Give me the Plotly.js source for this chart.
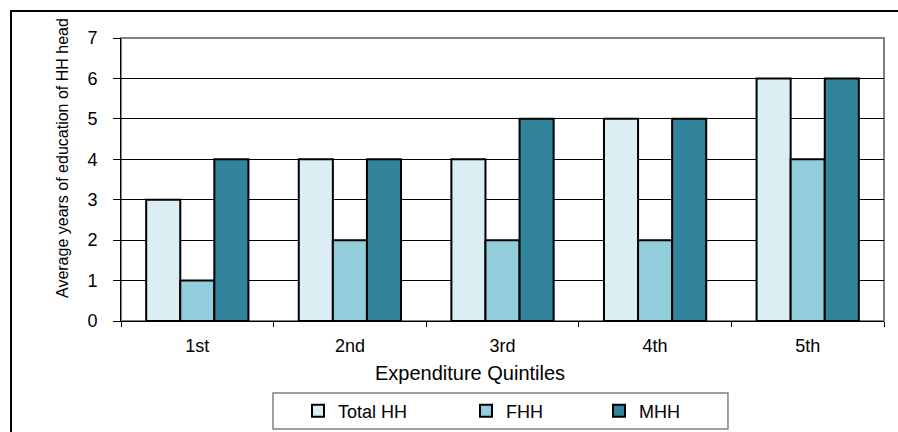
<!DOCTYPE html>
<html>
<head>
<meta charset="utf-8">
<script src="https://cdn.plot.ly/plotly-3.0.1.min.js"></script>
<style>
  html, body { margin: 0; padding: 0; background: #fff; overflow: hidden; }
  #wrap { position: relative; width: 898px; height: 432px; }
  #chart { position: absolute; left: 0; top: 0; width: 898px; height: 432px; }
  #frame { position: absolute; left: 10px; top: 10px; width: 900px; height: 430px;
           border-left: 2px solid #000; border-top: 2px solid #000; pointer-events: none; }
</style>
</head>
<body>
<div id="wrap">
  <div id="chart"></div>
  <div id="frame"></div>
</div>
<script>
// Expenditure quintiles and average years of schooling of the household head
const quintiles = ['1st', '2nd', '3rd', '4th', '5th'];
const totalHH = [3, 4, 4, 5, 6];
const femaleHH = [1, 2, 2, 2, 4];
const maleHH = [4, 4, 5, 5, 6];
const yTicks = [0, 1, 2, 3, 4, 5, 6, 7];

const font = 'Arial, "Liberation Sans", sans-serif';

function barTrace(name, values, color, legendId) {
  return {
    type: 'bar',
    name: name,
    x: quintiles,
    y: values,
    legend: legendId,
    marker: { color: color, line: { color: '#000', width: 2 } },
    hoverinfo: 'x+y+name'
  };
}

const data = [
  barTrace('Total HH', totalHH, '#DAEEF3', 'legend'),
  barTrace('FHH', femaleHH, '#92CDDC', 'legend2'),
  barTrace('MHH', maleHH, '#31849B', 'legend3')
];

// one legend per series so the entries can sit at their own spots in the shared box
function legendAt(x) {
  return {
    orientation: 'h',
    xref: 'paper',
    x: x,
    xanchor: 'left',
    yref: 'container',
    y: 0.0486,
    yanchor: 'middle',
    borderwidth: 0,
    bgcolor: 'rgba(0,0,0,0)',
    font: { family: font, size: 18, color: '#000' }
  };
}

const layout = {
  width: 898,
  height: 432,
  margin: { l: 121, r: 14, t: 38, b: 111 },
  paper_bgcolor: '#fff',
  plot_bgcolor: '#fff',
  font: { family: font, size: 18, color: '#000' },
  barmode: 'group',
  bargap: 0.33,
  bargroupgap: 0,
  showlegend: true,
  legend: legendAt(0.232),
  legend2: legendAt(0.4522),
  legend3: legendAt(0.6265),
  xaxis: {
    type: 'category',
    automargin: false,
    showgrid: false,
    showline: true,
    linecolor: '#000',
    linewidth: 1,
    ticks: 'outside',
    tickson: 'boundaries',
    ticklen: 5,
    tickcolor: '#000',
    ticklabelstandoff: 8,
    tickfont: { family: font, size: 18 },
    zeroline: false
  },
  yaxis: {
    range: [0, 7],
    automargin: false,
    tickvals: yTicks,
    ticktext: yTicks.map(String),
    showgrid: true,
    gridcolor: '#000',
    gridwidth: 1,
    showline: true,
    linecolor: '#000',
    linewidth: 1,
    ticks: 'outside',
    ticklen: 7,
    tickcolor: '#000',
    ticklabelstandoff: 12,
    tickfont: { family: font, size: 18 },
    zeroline: false
  },
  annotations: [
    {
      text: 'Expenditure Quintiles',
      xref: 'paper', yref: 'paper', x: 0.457, y: -0.1837,
      xanchor: 'center', yanchor: 'middle', showarrow: false,
      font: { family: font, size: 20, color: '#000' }
    },
    {
      text: 'Average years of education of HH head',
      xref: 'paper', yref: 'paper', x: -0.076, y: 0.576,
      xanchor: 'center', yanchor: 'middle', showarrow: false, textangle: -90,
      font: { family: font, size: 16, color: '#000' }
    }
  ],
  shapes: [
    {
      // plot area frame
      type: 'rect', xref: 'paper', yref: 'paper', x0: 0, x1: 1, y0: 0, y1: 1,
      line: { color: '#808080', width: 2 }, fillcolor: 'rgba(0,0,0,0)', layer: 'below'
    },
    {
      // legend box
      type: 'rect', xref: 'paper', yref: 'paper', x0: 0.1992, x1: 0.7955, y0: -0.2544, y1: -0.3816,
      line: { color: '#808080', width: 1.5 }, fillcolor: 'rgba(0,0,0,0)', layer: 'above'
    }
  ]
};

Plotly.newPlot('chart', data, layout, { displayModeBar: false, staticPlot: true });
</script>
</body>
</html>
